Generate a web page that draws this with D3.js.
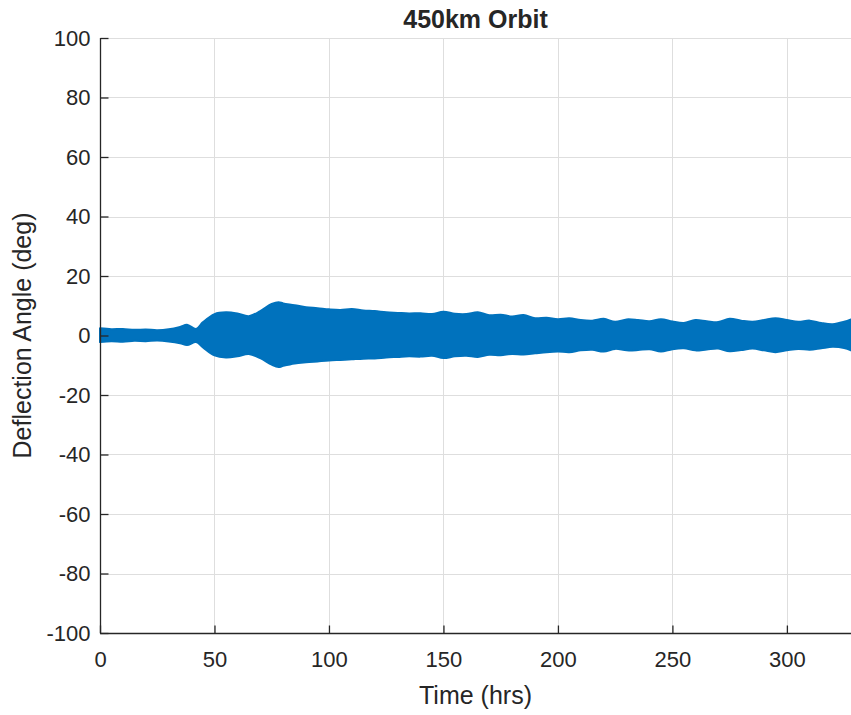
<!DOCTYPE html>
<html>
<head>
<meta charset="utf-8">
<script src="https://cdn.jsdelivr.net/npm/d3@7"></script>
<style>
  body { margin: 0; background: #fff; }
  svg text { font-family: "Liberation Sans", Arial, sans-serif; fill: #262626; }
</style>
</head>
<body>
<div id="chart"></div>
<script>
// envelope of the deflection signal (hours, deg)
var timeHrs = [0,5,10,15,20,25,30,35,38,42,45,50,55,60,65,70,75,78,80,85,90,95,100,105,110,115,120,125,130,135,140,145,150,155,160,165,170,175,180,185,190,195,200,205,210,215,220,225,230,235,240,245,250,255,260,265,270,275,280,285,290,295,300,305,310,315,320,325,328];
var upperDeg = [2.4,2.1,2.2,1.9,2.0,1.8,2.1,2.9,3.6,2.2,4.5,7.2,7.8,7.4,6.5,8.2,10.6,11.2,10.8,10.2,9.5,9.2,8.8,8.6,8.9,8.4,8.2,7.8,7.6,7.4,7.5,7.2,8.0,7.3,7.2,7.8,6.8,7.0,6.4,6.9,5.8,6.0,5.5,5.8,5.2,5.0,5.6,4.6,5.4,5.2,4.8,5.5,4.7,4.2,5.2,4.8,4.5,5.6,5.0,4.6,5.2,5.8,5.2,4.6,5.0,4.2,3.8,4.6,5.4];
var lowerDeg = [-2.2,-1.9,-2.1,-1.8,-1.9,-1.7,-2.0,-2.6,-3.2,-2.2,-4.0,-6.7,-7.4,-7.0,-6.2,-7.6,-9.8,-10.6,-10.2,-9.4,-9.0,-8.7,-8.4,-8.2,-8.0,-7.8,-7.7,-7.4,-7.2,-7.0,-7.1,-6.8,-7.6,-7.0,-6.8,-7.2,-6.5,-6.6,-6.2,-6.4,-6.0,-5.6,-5.4,-5.6,-5.0,-4.8,-5.4,-4.5,-5.0,-4.9,-4.6,-5.4,-4.6,-4.3,-5.0,-4.7,-4.4,-5.3,-4.9,-4.4,-5.0,-5.6,-5.0,-4.5,-4.8,-4.3,-3.8,-4.2,-5.0];
var xTicks = [0,50,100,150,200,250,300];
var yTicks = [-100,-80,-60,-40,-20,0,20,40,60,80,100];

var W = 851, H = 715;
var margin = {top: 38, right: 0, bottom: 82, left: 100};

var svg = d3.select("#chart").append("svg")
    .attr("width", W).attr("height", H);

var x = d3.scaleLinear().domain([0, 328]).range([margin.left, W - margin.right]);
var y = d3.scaleLinear().domain([-100, 100]).range([H - margin.bottom, margin.top]);

// grid
var grid = svg.append("g").attr("stroke", "#dedede").attr("stroke-width", 1);
grid.selectAll(".gx").data(xTicks.slice(1)).enter().append("line")
    .attr("x1", d => Math.round(x(d)) + 0.5).attr("x2", d => Math.round(x(d)) + 0.5)
    .attr("y1", y(100)).attr("y2", y(-100));
grid.selectAll(".gy").data(yTicks.slice(1)).enter().append("line")
    .attr("x1", x(0)).attr("x2", W)
    .attr("y1", d => Math.round(y(d)) + 0.5).attr("y2", d => Math.round(y(d)) + 0.5);

// signal band
var band = timeHrs.map((t, i) => ({t: t, hi: upperDeg[i], lo: lowerDeg[i]}));
var area = d3.area()
    .x(d => x(d.t))
    .y0(d => y(d.lo))
    .y1(d => y(d.hi))
    .curve(d3.curveCatmullRom);
svg.append("path").datum(band)
    .attr("d", area)
    .attr("fill", "#0072BD")
    .attr("stroke", "#0072BD")
    .attr("stroke-width", 2)
    .attr("stroke-linejoin", "round");

// axes (MATLAB style, ticks inward)
var fmt = d => String(d);
var xAxis = d3.axisBottom(x).tickValues(xTicks).tickFormat(fmt).tickSize(-8).tickPadding(18);
var gx = svg.append("g").attr("transform", "translate(0," + (Math.round(y(-100)) + 0.5) + ")").call(xAxis);
var yAxis = d3.axisLeft(y).tickValues(yTicks).tickFormat(fmt).tickSize(-8).tickPadding(10);
var gy = svg.append("g").attr("transform", "translate(" + (Math.round(x(0)) + 0.5) + ",0)").call(yAxis);

[gx, gy].forEach(function(g) {
  g.select(".domain").attr("stroke", "#262626").attr("stroke-width", 1.3);
  g.selectAll(".tick line").attr("stroke", "#262626").attr("stroke-width", 1.3);
  g.selectAll(".tick text").style("font-size", "22px").attr("fill", "#262626");
});
gy.select(".domain").attr("d", "M0," + y(100) + "V" + y(-100));
gx.select(".domain").attr("d", "M" + x(0) + ",0H" + W);

// labels
svg.append("text")
    .attr("x", (x(0) + W) / 2).attr("y", 28)
    .attr("text-anchor", "middle")
    .style("font-size", "25px").style("font-weight", "bold")
    .attr("fill", "#000")
    .text("450km Orbit");

svg.append("text")
    .attr("x", (x(0) + W) / 2).attr("y", 704)
    .attr("text-anchor", "middle")
    .style("font-size", "25px")
    .text("Time (hrs)");

svg.append("text")
    .attr("transform", "translate(31," + y(0) + ") rotate(-90)")
    .attr("text-anchor", "middle")
    .style("font-size", "25px")
    .text("Deflection Angle (deg)");
</script>
</body>
</html>
